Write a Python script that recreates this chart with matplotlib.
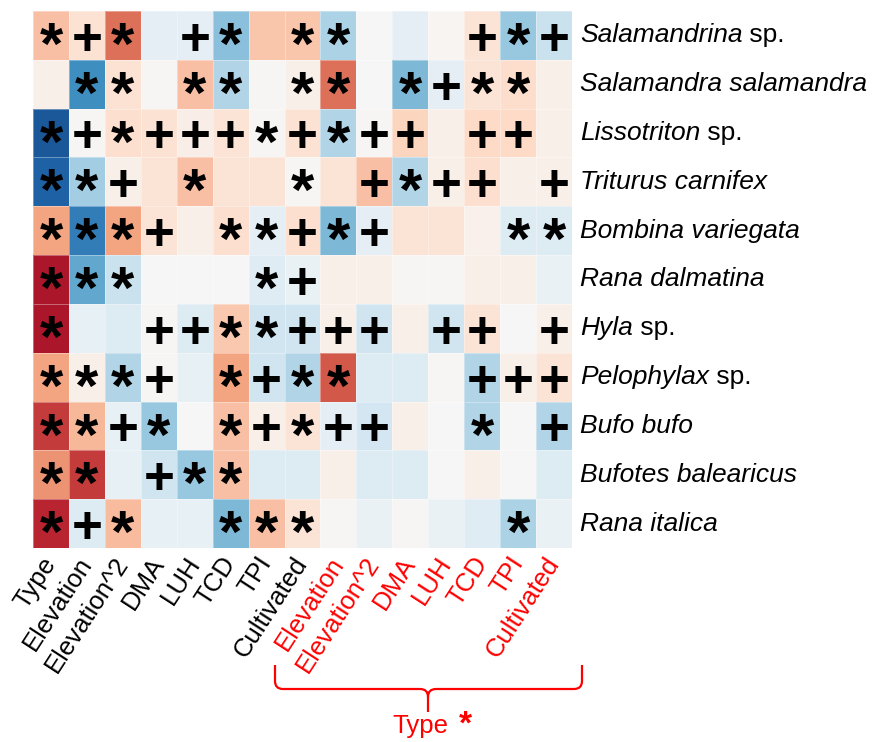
import matplotlib.pyplot as plt
import numpy as np
from matplotlib.path import Path
from matplotlib.patches import PathPatch

# Degiskenler (sutunlar): ilk 8 siyah, son 7 Type ile etkilesim (kirmizi)
terms = ["Type", "Elevation", "Elevation^2", "DMA", "LUH", "TCD", "TPI", "Cultivated",
         "Elevation", "Elevation^2", "DMA", "LUH", "TCD", "TPI", "Cultivated"]
n_inter = 7

# Turler (satirlar); "sp." olanlar ayri isaretli
species = ["Salamandrina", "Salamandra salamandra", "Lissotriton", "Triturus carnifex",
           "Bombina variegata", "Rana dalmatina", "Hyla", "Pelophylax",
           "Bufo bufo", "Bufotes balearicus", "Rana italica"]
genus_sp = [True, False, True, False, False, False, True, True, False, False, False]

# Katsayilar (resimden okunmus yaklasik degerler)
salamandrina = [0.30, 0.15, 0.55, -0.10, -0.10, -0.42, 0.28, 0.28, -0.32, 0.00, -0.10, 0.02, 0.14, -0.38, -0.22]
salamandra = [0.06, -0.62, 0.15, 0.01, 0.30, -0.30, 0.01, 0.06, 0.55, 0.00, -0.45, -0.10, 0.14, 0.18, 0.06]
lissotriton = [-0.85, 0.01, 0.17, 0.15, 0.07, 0.14, 0.01, 0.15, -0.30, 0.01, 0.22, 0.06, 0.20, 0.20, 0.06]
triturus = [-0.82, -0.35, 0.06, 0.14, 0.30, 0.14, 0.14, 0.01, 0.14, 0.30, -0.30, 0.06, 0.17, 0.06, 0.06]
bombina = [0.40, -0.70, 0.40, 0.14, 0.06, 0.17, -0.10, 0.17, -0.45, -0.10, 0.14, 0.14, 0.05, -0.14, -0.14]
rana_dalm = [0.82, -0.52, -0.22, 0.00, 0.00, 0.00, -0.12, -0.07, 0.06, 0.06, 0.01, 0.01, 0.06, 0.06, -0.07]
hyla = [0.82, -0.08, -0.14, 0.01, -0.14, 0.27, -0.20, -0.20, 0.06, -0.20, 0.06, -0.20, 0.14, 0.00, 0.06]
pelophylax = [0.40, 0.06, -0.30, 0.01, -0.08, 0.40, -0.20, -0.30, 0.62, -0.14, -0.14, 0.01, -0.30, 0.06, 0.14]
bufo = [0.70, 0.33, -0.08, -0.38, 0.00, 0.30, 0.06, 0.14, -0.10, -0.18, 0.06, 0.00, -0.30, 0.00, -0.30]
bufotes = [0.45, 0.70, -0.08, -0.20, -0.38, 0.30, -0.14, -0.14, 0.06, -0.14, -0.14, 0.00, 0.06, 0.00, -0.14]
rana_ital = [0.76, -0.14, 0.32, -0.08, -0.08, -0.45, 0.30, 0.14, 0.01, -0.07, 0.01, -0.07, -0.12, -0.32, -0.07]

# Anlamlilik isaretleri ("*" / "+" / bos)
sig_salamandrina = ["*", "+", "*", "", "+", "*", "", "*", "*", "", "", "", "+", "*", "+"]
sig_salamandra = ["", "*", "*", "", "*", "*", "", "*", "*", "", "*", "+", "*", "*", ""]
sig_lissotriton = ["*", "+", "*", "+", "+", "+", "*", "+", "*", "+", "+", "", "+", "+", ""]
sig_triturus = ["*", "*", "+", "", "*", "", "", "*", "", "+", "*", "+", "+", "", "+"]
sig_bombina = ["*", "*", "*", "+", "", "*", "*", "+", "*", "+", "", "", "", "*", "*"]
sig_rana_dalm = ["*", "*", "*", "", "", "", "*", "+", "", "", "", "", "", "", ""]
sig_hyla = ["*", "", "", "+", "+", "*", "*", "+", "+", "+", "", "+", "+", "", "+"]
sig_pelophylax = ["*", "*", "*", "+", "", "*", "+", "*", "*", "", "", "", "+", "+", "+"]
sig_bufo = ["*", "*", "+", "*", "", "*", "+", "*", "+", "+", "", "", "*", "", "+"]
sig_bufotes = ["*", "*", "", "+", "*", "*", "", "", "", "", "", "", "", "", ""]
sig_rana_ital = ["*", "+", "*", "", "", "*", "*", "*", "", "", "", "", "", "*", ""]

values = np.array([salamandrina, salamandra, lissotriton, triturus, bombina, rana_dalm,
                   hyla, pelophylax, bufo, bufotes, rana_ital])
signs = [sig_salamandrina, sig_salamandra, sig_lissotriton, sig_triturus, sig_bombina,
         sig_rana_dalm, sig_hyla, sig_pelophylax, sig_bufo, sig_bufotes, sig_rana_ital]

n_rows, n_cols = values.shape

fig = plt.figure(figsize=(8.77, 7.42), dpi=100)
ax = fig.add_axes([33 / 877, 1 - 548 / 742, 539 / 877, 537 / 742])

ax.pcolormesh(np.arange(n_cols + 1), np.arange(n_rows + 1), values,
              cmap="RdBu_r", vmin=-1, vmax=1,
              edgecolors=(1, 1, 1, 0.35), linewidth=0.5)
ax.set_xlim(0, n_cols)
ax.set_ylim(n_rows, 0)
for s in ax.spines.values():
    s.set_visible(False)

# Hucre isaretleri
for i in range(n_rows):
    for j in range(n_cols):
        sym = signs[i][j]
        if sym == "*":
            ax.annotate("*", (j + 0.5, i + 0.5), xytext=(0, -20.5), textcoords="offset points",
                        ha="center", va="baseline", fontsize=43, fontweight="bold",
                        family="Liberation Sans", color="black")
        elif sym == "+":
            ax.annotate("+", (j + 0.5, i + 0.5), xytext=(0, -14), textcoords="offset points",
                        ha="center", va="baseline", fontsize=38, fontweight="bold",
                        family="Liberation Sans", color="black")

# Alt eksen etiketleri
ax.set_xticks(np.arange(n_cols) + 0.5)
ax.set_xticklabels(terms, rotation=57, ha="right", va="center", rotation_mode="anchor",
                   fontsize=18.5, family="Liberation Sans")
for k, lab in enumerate(ax.get_xticklabels()):
    if k >= n_cols - n_inter:
        lab.set_color("red")
ax.tick_params(axis="x", length=0, pad=8)
ax.set_yticks([])

# Sag taraf tur isimleri
for i, name in enumerate(species):
    t = ax.text(n_cols + 0.22, i + 0.5, name, ha="left", va="center", fontsize=19,
                style="italic", family="Liberation Sans")
    if genus_sp[i]:
        ax.annotate(" sp.", xy=(1, 0), xycoords=t, ha="left", va="bottom",
                    fontsize=19, family="Liberation Sans")

# Kirmizi parantez ve "Type *"
over = fig.add_axes([0, 0, 1, 1], facecolor="none")
over.set_xlim(0, 877)
over.set_ylim(742, 0)
over.axis("off")

x0, x1, xm = 275, 582, 428
ytop, ybar, ytip, r = 665, 689, 712, 8
verts = [(x0, ytop), (x0, ybar - r), (x0, ybar), (x0 + r, ybar),
         (xm - r, ybar), (xm, ybar), (xm, ybar + r), (xm, ytip)]
codes = [Path.MOVETO, Path.LINETO, Path.CURVE3, Path.CURVE3,
         Path.LINETO, Path.CURVE3, Path.CURVE3, Path.LINETO]
verts2 = [(x1, ytop), (x1, ybar - r), (x1, ybar), (x1 - r, ybar),
          (xm + r, ybar), (xm, ybar), (xm, ybar + r)]
codes2 = [Path.MOVETO, Path.LINETO, Path.CURVE3, Path.CURVE3,
          Path.LINETO, Path.CURVE3, Path.CURVE3]
for v, c in [(verts, codes), (verts2, codes2)]:
    over.add_patch(PathPatch(Path(v, c), facecolor="none", edgecolor="red", lw=1.6))

over.text(420, 726, "Type", ha="center", va="center", fontsize=18.5, color="red",
          family="Liberation Sans")
over.text(465, 741, "*", ha="center", va="bottom", fontsize=24, color="red",
          fontweight="bold", family="Liberation Sans")

plt.savefig("out.png", dpi=100)
